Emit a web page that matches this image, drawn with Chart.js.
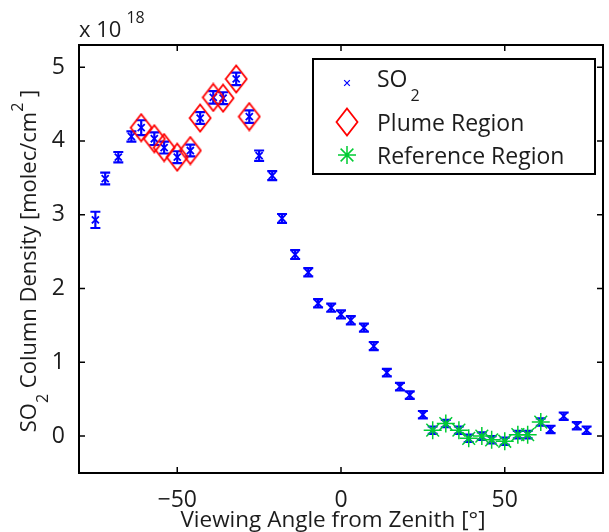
<!DOCTYPE html>
<html>
<head>
<meta charset="utf-8">
<script src="https://cdn.jsdelivr.net/npm/chart.js@4.4.1/dist/chart.umd.min.js"></script>
<style>
  html, body { margin: 0; padding: 0; background: #fff; overflow: hidden; }
  #wrap { width: 616px; height: 532px; }
</style>
</head>
<body>
<div id="wrap"><canvas id="so2-chart" width="616" height="532"></canvas></div>
<script>
// viewing angle [deg] and SO2 column density [x 1e18 molec/cm2]
const angles = [-75, -72, -68, -64, -61, -57, -54, -50, -46, -43,
                -39, -36, -32, -28, -25, -21, -18, -14, -10, -7,
                -3, 0, 3, 7, 10, 14, 18, 21, 25, 28,
                32, 36, 39, 43, 46, 50, 54, 57, 61, 64,
                68, 72, 75];
const so2Values = [2.93, 3.49, 3.78, 4.06, 4.18, 4.03, 3.91, 3.78, 3.87, 4.31,
                   4.59, 4.58, 4.84, 4.33, 3.80, 3.53, 2.95, 2.46, 2.22, 1.80,
                   1.74, 1.65, 1.57, 1.47, 1.22, 0.86, 0.67, 0.555, 0.29, 0.08,
                   0.17, 0.08, -0.03, 0.0, -0.05, -0.07, 0.02, 0.02, 0.19, 0.09,
                   0.27, 0.14, 0.08];
const so2Errors = [0.11, 0.08, 0.07, 0.07, 0.1, 0.085, 0.08, 0.08, 0.08, 0.08,
                   0.085, 0.08, 0.085, 0.085, 0.07, 0.06, 0.06, 0.06, 0.055, 0.055,
                   0.055, 0.055, 0.055, 0.055, 0.055, 0.05, 0.05, 0.05, 0.05, 0.05,
                   0.05, 0.05, 0.05, 0.05, 0.05, 0.05, 0.05, 0.05, 0.05, 0.05,
                   0.05, 0.05, 0.05];
const plumeAngles = [-61, -57, -54, -50, -46, -43, -39, -36, -32, -28];
const referenceAngles = [28, 32, 36, 39, 43, 46, 50, 54, 57, 61];
const xTicks = [-50, 0, 50];
const yTicks = [0, 1, 2, 3, 4, 5];

const FONT = '"Open Sans", sans-serif';
const TEXT = '#1c1c1c';
const BLUE = '#0000ff';
const RED = '#ff0000';
const GREEN = '#00cc33';

function valueAt(a) {
  return so2Values[angles.indexOf(a)];
}

// MATLAB style diamond, a bit taller than wide
function makeDiamond(w, h, color, lw) {
  const c = document.createElement('canvas');
  c.width = w + lw * 2;
  c.height = h + lw * 2;
  const g = c.getContext('2d');
  const cx = c.width / 2, cy = c.height / 2;
  g.strokeStyle = color;
  g.lineWidth = lw;
  g.beginPath();
  g.moveTo(cx, cy - h / 2);
  g.lineTo(cx + w / 2, cy);
  g.lineTo(cx, cy + h / 2);
  g.lineTo(cx - w / 2, cy);
  g.closePath();
  g.stroke();
  return c;
}
const diamond = makeDiamond(21, 27, RED, 1.8);

function fmtTick(v) {
  return String(v).replace('-', '\u2212');
}

// error bars for the SO2 series
const errorBars = {
  id: 'errorBars',
  beforeDatasetsDraw(chart) {
    const { ctx, scales: { x, y } } = chart;
    ctx.save();
    ctx.strokeStyle = BLUE;
    ctx.lineWidth = 2.2;
    angles.forEach((a, i) => {
      const px = x.getPixelForValue(a);
      const top = y.getPixelForValue(so2Values[i] + so2Errors[i]);
      const bot = y.getPixelForValue(so2Values[i] - so2Errors[i]);
      ctx.beginPath();
      ctx.moveTo(px, top); ctx.lineTo(px, bot);
      ctx.moveTo(px - 5, top); ctx.lineTo(px + 5, top);
      ctx.moveTo(px - 5, bot); ctx.lineTo(px + 5, bot);
      ctx.stroke();
    });
    ctx.restore();
  }
};

// box, inward ticks, exponent, axis titles and legend
const decorations = {
  id: 'decorations',
  afterDraw(chart) {
    const { ctx, chartArea: a, scales: { x, y } } = chart;
    ctx.save();
    ctx.strokeStyle = '#000';
    ctx.lineWidth = 1.5;
    ctx.beginPath();
    xTicks.forEach(v => {
      const p = x.getPixelForValue(v);
      ctx.moveTo(p, a.bottom); ctx.lineTo(p, a.bottom - 6);
      ctx.moveTo(p, a.top); ctx.lineTo(p, a.top + 6);
    });
    yTicks.forEach(v => {
      const p = y.getPixelForValue(v);
      ctx.moveTo(a.left, p); ctx.lineTo(a.left + 6, p);
      ctx.moveTo(a.right, p); ctx.lineTo(a.right - 6, p);
    });
    ctx.stroke();
    ctx.lineWidth = 2;
    ctx.strokeRect(a.left, a.top, a.right - a.left, a.bottom - a.top);

    // exponent label
    ctx.fillStyle = TEXT;
    ctx.textBaseline = 'alphabetic';
    ctx.textAlign = 'left';
    ctx.font = '22px ' + FONT;
    ctx.fillText('x 10', 79, 37);
    const w10 = ctx.measureText('x 10').width;
    ctx.font = '16px ' + FONT;
    ctx.fillText('18', 79 + w10 + 5, 23);

    // x title
    ctx.font = '22.5px ' + FONT;
    ctx.textAlign = 'center';
    ctx.fillText('Viewing Angle from Zenith [\u00b0]', 333, 527);

    // y title, rotated, with sub/superscript
    const parts = [
      { t: 'SO', size: 22, dy: 0 },
      { t: '2', size: 16, dy: 12 },
      { t: ' Column Density [molec/cm', size: 22, dy: 0 },
      { t: '2', size: 16, dy: -13 },
      { t: ' ]', size: 22, dy: 0 }
    ];
    let total = 0;
    parts.forEach(p => {
      ctx.font = p.size + 'px ' + FONT;
      p.w = ctx.measureText(p.t).width;
      total += p.w;
    });
    ctx.translate(36, 261 + total / 2);
    ctx.rotate(-Math.PI / 2);
    ctx.textAlign = 'left';
    let cx = 0;
    parts.forEach(p => {
      ctx.font = p.size + 'px ' + FONT;
      ctx.fillText(p.t, cx, p.dy);
      cx += p.w;
    });
    ctx.setTransform(1, 0, 0, 1, 0, 0);

    // legend
    const lx = 313, ly = 59, lw = 282, lh = 115;
    ctx.fillStyle = '#fff';
    ctx.fillRect(lx, ly, lw, lh);
    ctx.strokeStyle = '#000';
    ctx.lineWidth = 2;
    ctx.strokeRect(lx, ly, lw, lh);

    const mx = 347, tx = 377;
    ctx.strokeStyle = BLUE;
    ctx.lineWidth = 1.2;
    Chart.helpers.drawPoint(ctx, { pointStyle: 'crossRot', radius: 4, borderWidth: 1.2 }, mx, 83);
    ctx.drawImage(diamond, mx - diamond.width / 2, 122 - diamond.height / 2);
    ctx.strokeStyle = GREEN;
    ctx.lineWidth = 1.5;
    Chart.helpers.drawPoint(ctx, { pointStyle: 'star', radius: 9, borderWidth: 1.5 }, mx, 155);

    ctx.fillStyle = TEXT;
    ctx.font = '23px ' + FONT;
    ctx.fillText('SO', tx, 87);
    const wSO = ctx.measureText('SO').width;
    ctx.fillText('Plume Region', tx, 131);
    ctx.fillText('Reference Region', tx, 164);
    ctx.font = '16px ' + FONT;
    ctx.fillText('2', tx + wSO + 3, 101);
    ctx.restore();
  }
};

new Chart(document.getElementById('so2-chart'), {
  type: 'scatter',
  data: {
    datasets: [
      {
        label: 'SO\u2082',
        data: angles.map((a, i) => ({ x: a, y: so2Values[i] })),
        pointStyle: 'crossRot',
        pointRadius: 5,
        borderColor: BLUE,
        backgroundColor: BLUE,
        pointBorderWidth: 1.8,
        order: 3
      },
      {
        label: 'Plume Region',
        data: plumeAngles.map(a => ({ x: a, y: valueAt(a) })),
        pointStyle: diamond,
        pointRadius: 12,
        borderColor: RED,
        backgroundColor: 'transparent',
        order: 2
      },
      {
        label: 'Reference Region',
        data: referenceAngles.map(a => ({ x: a, y: valueAt(a) })),
        pointStyle: 'star',
        pointRadius: 9,
        borderColor: GREEN,
        backgroundColor: GREEN,
        pointBorderWidth: 1.5,
        order: 1
      }
    ]
  },
  options: {
    responsive: false,
    animation: false,
    layout: { padding: { top: 45, right: 4, left: 0, bottom: 0 } },
    plugins: {
      legend: { display: false },
      tooltip: { enabled: false }
    },
    scales: {
      x: {
        type: 'linear',
        min: -80,
        max: 80,
        grid: { display: false },
        border: { display: false },
        afterBuildTicks: s => { s.ticks = xTicks.map(v => ({ value: v })); },
        afterFit: s => { s.height = 59; },
        ticks: {
          font: { family: FONT, size: 23 },
          color: TEXT,
          padding: 6,
          maxRotation: 0,
          callback: v => fmtTick(v)
        }
      },
      y: {
        type: 'linear',
        min: -0.5,
        max: 5.3,
        grid: { display: false },
        border: { display: false },
        afterBuildTicks: s => { s.ticks = yTicks.map(v => ({ value: v })); },
        afterFit: s => { s.width = 79; },
        ticks: {
          font: { family: FONT, size: 23 },
          color: TEXT,
          padding: 6,
          callback: v => fmtTick(v)
        }
      }
    }
  },
  plugins: [errorBars, decorations]
});
</script>
</body>
</html>
